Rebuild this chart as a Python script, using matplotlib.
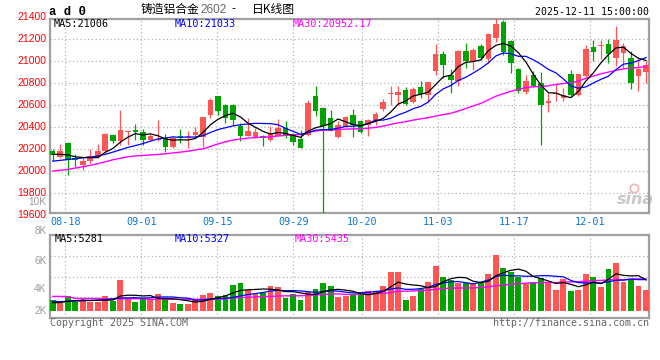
import matplotlib
matplotlib.use("Agg")
import matplotlib.pyplot as plt
import matplotlib.transforms as mtrans
import numpy as np

# ---------------- data ----------------
date_ticks = ["08-18", "09-01", "09-15", "09-29", "10-20", "11-03", "11-17", "12-01"]
date_tick_idx = [2, 12, 22, 32, 41, 51, 61, 71]

opens = [20180, 20125, 20258, 20115, 20052, 20090, 20125, 20180, 20330, 20270,
         20355, 20376, 20358, 20280, 20280, 20297, 20220, 20320, 20295, 20325,
         20310, 20506, 20680, 20597, 20597, 20412, 20321, 20306, 20321, 20279,
         20321, 20388, 20324, 20291, 20324, 20685, 20570, 20482, 20306, 20403,
         20506, 20452, 20421, 20452, 20567, 20703, 20688, 20736, 20627, 20761,
         20688, 20915, 21064, 20870, 20815, 21094, 21003, 21140, 21018, 21209,
         21354, 21185, 20930, 20715, 20876, 20800, 20618, 20703, 20664, 20882,
         20688, 20867, 21130, 21143, 21158, 21033, 21073, 21033, 20867, 20897]
highs = [20200, 20240, 20260, 20155, 20115, 20195, 20245, 20345, 20335, 20555,
         20365, 20430, 20380, 20335, 20460, 20335, 20315, 20383, 20365, 20400,
         20490, 20660, 20685, 20605, 20605, 20436, 20482, 20391, 20325, 20406,
         20476, 20458, 20345, 20376, 20650, 20776, 20580, 20558, 20458, 20503,
         20567, 20460, 20476, 20536, 20658, 20776, 20770, 20760, 20765, 20821,
         20812, 21158, 21094, 20930, 21100, 21164, 21118, 21155, 21255, 21391,
         21376, 21190, 20942, 20873, 20906, 20900, 20709, 20800, 20755, 20921,
         20885, 21149, 21194, 21194, 21203, 21321, 21164, 21094, 21027, 21003]
lows = [20090, 20115, 19960, 20035, 20010, 20075, 20115, 20170, 20255, 20235,
        20235, 20280, 20235, 20270, 20270, 20175, 20205, 20250, 20205, 20310,
        20220, 20480, 20510, 20435, 20420, 20276, 20315, 20300, 20225, 20276,
        20315, 20300, 20233, 20205, 20315, 20497, 19600, 20360, 20300, 20397,
        20306, 20345, 20315, 20421, 20549, 20597, 20600, 20603, 20618, 20664,
        20627, 20870, 20845, 20709, 20770, 20942, 20921, 21012, 20982, 21179,
        21058, 20890, 20706, 20703, 20760, 20233, 20533, 20633, 20640, 20679,
        20682, 20852, 21000, 21021, 20985, 20952, 20942, 20748, 20730, 20800]
closes = [20145, 20180, 20100, 20095, 20088, 20135, 20185, 20340, 20268, 20375,
          20362, 20352, 20280, 20315, 20292, 20215, 20295, 20297, 20307, 20358,
          20488, 20649, 20543, 20482, 20461, 20321, 20367, 20352, 20297, 20339,
          20391, 20324, 20264, 20209, 20621, 20543, 20410, 20367, 20421, 20494,
          20421, 20352, 20467, 20521, 20627, 20709, 20718, 20612, 20748, 20703,
          20809, 21064, 20961, 20824, 21094, 21003, 21103, 21033, 21245, 21339,
          21088, 20988, 20730, 20821, 20776, 20597, 20639, 20712, 20694, 20694,
          20885, 21109, 21088, 21149, 21067, 21194, 21140, 20803, 20930, 20967]
volumes = [1833, 1370, 2518, 1542, 1833, 1542, 1542, 2518, 1713, 5259,
           2227, 1490, 1936, 2056, 2861, 2056, 1319, 1148, 1148, 1764,
           2689, 3032, 2518, 2621, 4402, 4796, 3546, 2861, 2963, 4231,
           4060, 2227, 2861, 1833, 3203, 3717, 4745, 4231, 2398, 2518,
           2741, 2621, 3426, 3426, 4231, 6681, 6681, 1833, 2570, 3649,
           4968, 7709, 5824, 5259, 4796, 4676, 4676, 4676, 6287, 9541,
           7366, 6681, 5704, 4574, 4968, 5533, 4676, 3546, 5362, 3426,
           3546, 6287, 5824, 4111, 7143, 8222, 4968, 5362, 4300, 3550]

# moving-average values before enough bars exist
price_ma5_head = [20150, 20150, 20145, 20128]
price_ma10_head = [20088, 20095, 20103, 20110, 20118, 20125, 20135, 20150, 20170]
price_ma30_head = [19997, 20005, 20012, 20025, 20037, 20050, 20065, 20082, 20100, 20115,
                   20128, 20135, 20140, 20145, 20149, 20155, 20163, 20170, 20179, 20190,
                   20200, 20222, 20245, 20265, 20280, 20290, 20298, 20303, 20307]
vol_ma5_head = [1370, 1400, 1650, 1700]
vol_ma10_head = [1540, 1560, 1600, 1650, 1700, 1750, 1800, 1900, 2000]
vol_ma30_head = [2450, 2450, 2400, 2100, 2100, 2100, 2100, 2050, 2050, 2050,
                 2050, 2050, 2050, 1950, 1950, 1950, 1950, 1950, 1950, 1950,
                 1950, 1980, 2000, 2050, 2150, 2250, 2300, 2350, 2400]

price_levels = [21400, 21200, 21000, 20800, 20600, 20400, 20200, 20000, 19800, 19600]
price_legend = ["MA5:21006", "MA10:21033", "MA30:20952.17"]
vol_legend = ["MA5:5281", "MA10:5327", "MA30:5435"]
vol_labels = ["10K", "8K", "6K", "4K", "2K"]

# ---------------- helpers ----------------
W, H = 660, 360


def fx(px):
    return px / W


def fy(py):
    return 1 - py / H


def moving(values, n, head):
    v = np.asarray(values, float)
    out = np.empty_like(v)
    out[:n - 1] = head
    out[n - 1:] = np.convolve(v, np.ones(n) / n, mode="valid")
    return out


RED = "#ff5555"
GREEN = "#00a400"
BORDER = "#a0a0a0"
GRID = "#b4b4b4"
MONO = "DejaVu Sans Mono"
SANS = "Liberation Sans"

o = np.array(opens, float)
h = np.array(highs, float)
l = np.array(lows, float)
c = np.array(closes, float)
vol = np.array(volumes, float)
x = np.arange(len(c))
up = c >= o
cols = [RED if u else GREEN for u in up]

fig = plt.figure(figsize=(6.6, 3.6), dpi=100)
fig.patch.set_facecolor("white")

ax = fig.add_axes([fx(50), fy(213.3), (649 - 50) / W, (213.3 - 19) / H])
axv = fig.add_axes([fx(50), fy(318.3), (649 - 50) / W, (318.3 - 234.7) / H])

xlim = (-0.36, len(c) - 1 + 0.4)
grid_x = [i - 0.3 + (i - 2) * 0.012 for i in date_tick_idx]

for a in (ax, axv):
    a.set_xlim(*xlim)
    a.set_facecolor("white")
    for s in a.spines.values():
        s.set_color(BORDER)
        s.set_linewidth(1.6)
    a.tick_params(length=0)
    a.set_xticks(grid_x)
    a.grid(True, color=GRID, linestyle=(0, (1, 2)), linewidth=0.9)
    a.set_axisbelow(True)

# ---------------- price panel ----------------
ax.set_ylim(19612, 21385)
ax.set_yticks([v for v in price_levels if 19612 < v < 21385])
ax.set_yticklabels([])
ax.set_xticklabels(date_ticks, color="#0a78d6", fontfamily=MONO, fontsize=7.3)
ax.tick_params(axis="x", pad=2.5)

ax.vlines(x, l, h, colors=cols, linewidth=0.9, zorder=3)
body = np.maximum(np.abs(c - o), 9)
ax.bar(x, body, bottom=np.minimum(o, c), width=0.74, color=cols, linewidth=0, zorder=4)

ma5 = moving(c, 5, price_ma5_head)
ma10 = moving(c, 10, price_ma10_head)
ma30 = moving(c, 30, price_ma30_head)
ax.plot(x, ma30, color="#ff00ff", lw=1.0, zorder=5)
ax.plot(x, ma10, color="#0000ff", lw=0.9, zorder=5)
ax.plot(x, ma5, color="black", lw=0.9, zorder=6)

tr = mtrans.blended_transform_factory(ax.transAxes, ax.transData)
for v in price_levels:
    ax.text(-0.0065, v, str(v), transform=tr, ha="right", va="center",
            color="#ff0000", fontfamily=SANS, fontsize=7.5, clip_on=False)

ax.text(fx(54), fy(24), price_legend[0], transform=fig.transFigure, color="black",
        fontfamily=MONO, fontsize=7.3, va="center", ha="left")
ax.text(fx(175), fy(24), price_legend[1], transform=fig.transFigure, color="#0000ff",
        fontfamily=MONO, fontsize=7.3, va="center", ha="left")
ax.text(fx(293), fy(24), price_legend[2], transform=fig.transFigure, color="#ff00ff",
        fontfamily=MONO, fontsize=7.3, va="center", ha="left")

# sina watermark
ax.text(fx(635), fy(200), "sina", transform=fig.transFigure, color="#c8c8c8",
        fontfamily="DejaVu Sans", fontstyle="italic", fontweight="bold",
        fontsize=11.5, ha="center", va="center", zorder=1)
ax.plot([fx(634)], [fy(188)], transform=fig.transFigure, marker="o", ms=6,
        mfc="none", mec="#f0b4b4", mew=1.2, zorder=1)

# ---------------- volume panel ----------------
vmin, vmax = -1302, 13019
axv.set_ylim(vmin, vmax)
axv.set_yticks([(vmax - vmin) * k / 4 + vmin for k in (1, 2, 3)])
axv.set_yticklabels([])
axv.set_xticklabels([])
axv.bar(x, vol, width=0.78, color=cols, linewidth=0, zorder=3)
vma5 = moving(vol, 5, vol_ma5_head)
vma10 = moving(vol, 10, vol_ma10_head)
vma30 = moving(vol, 30, vol_ma30_head)
axv.plot(x, vma30, color="#ff00ff", lw=1.0, zorder=5)
axv.plot(x, vma10, color="#0000ff", lw=0.9, zorder=5)
axv.plot(x, vma5, color="black", lw=0.9, zorder=6)

fig.text(fx(55), fy(239), vol_legend[0], color="black", fontfamily=MONO, fontsize=7.3, va="center")
fig.text(fx(175), fy(239), vol_legend[1], color="#0000ff", fontfamily=MONO, fontsize=7.3, va="center")
fig.text(fx(295), fy(239), vol_legend[2], color="#ff00ff", fontfamily=MONO, fontsize=7.3, va="center")

for lab, py in zip(vol_labels, [202.0, 230.7, 260.7, 289.3, 310.7]):
    fig.text(fx(46.5), fy(py), lab, color="#9a9a9a", fontfamily=SANS, fontsize=7.2,
             ha="right", va="center")

# ---------------- header / footer ----------------
fig.text(fx(49), fy(12), "a d 0", fontfamily="Liberation Mono", fontweight="bold",
         fontsize=8.8, ha="left", va="center", color="black")
CJK = ["Noto Sans CJK SC", "DejaVu Sans"]
fig.text(fx(141), fy(9.5), "铸造铝合金", fontfamily=CJK, fontsize=8.5, ha="left", va="center")
fig.text(fx(200), fy(10), "2602", fontfamily=SANS, fontsize=8.5, color="#666666", ha="left", va="center")
fig.text(fx(232), fy(9.5), "-", fontfamily=SANS, fontsize=8.5, ha="left", va="center")
fig.text(fx(251.5), fy(9.5), "日K线图", fontfamily=CJK, fontsize=8.5, ha="left", va="center")
fig.text(fx(649), fy(12), "2025-12-11 15:00:00", fontfamily=MONO, fontsize=7.1,
         ha="right", va="center", color="black")
fig.text(fx(50), fy(323.5), "Copyright 2025 SINA.COM", fontfamily=MONO, fontsize=7.2,
         ha="left", va="center", color="#666666")
fig.text(fx(649), fy(323.5), "http://finance.sina.com.cn", fontfamily=MONO, fontsize=7.2,
         ha="right", va="center", color="#666666")

fig.savefig("out.png", dpi=100, facecolor="white")
